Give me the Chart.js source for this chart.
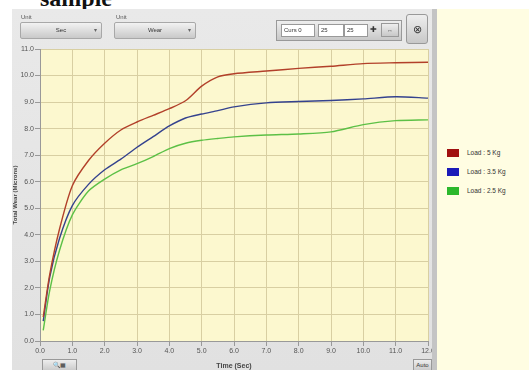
<!DOCTYPE html>
<html>
<head>
<meta charset="utf-8">
<script src="https://cdn.jsdelivr.net/npm/chart.js@4"></script>
<style>
  body { margin: 0; width: 529px; height: 370px; overflow: hidden; position: relative; background: #fff; font-family: "Liberation Sans", Arial, sans-serif; }
  #title { position: absolute; left: 40px; top: -15px; font: bold 24px "Liberation Serif", serif; color: #111; }
  #panel { position: absolute; left: 12px; top: 9px; width: 420px; height: 361px; background: linear-gradient(#e9e9e9, #e1e1e1); border-right: 5px solid #c4c4c4; }
  #side { position: absolute; left: 437px; top: 9px; width: 92px; height: 361px; background: #fffde2; }
  #chartBox { position: absolute; left: 0; top: 0; width: 420px; height: 361px; }
  .lbl { position: absolute; font-size: 6px; color: #555; }
  .drop { position: absolute; height: 15px; background: linear-gradient(#f2f2f2, #c9c9c9); border: 1px solid #a8a8a8; border-radius: 2px; font-size: 6px; color: #333; text-align: center; line-height: 15px; }
  .drop span.arr { position: absolute; right: 4px; top: 0; color: #666; }
  .field { position: absolute; top: 24px; height: 11px; background: #fff; border: 1px solid #999; font-size: 6px; line-height: 11px; color: #333; padding-left: 2px; }
  .btn { position: absolute; background: linear-gradient(#eee, #c8c8c8); border: 1px solid #999; font-size: 6px; color: #333; text-align: center; }
  #legend { position: absolute; left: 10px; top: 140px; }
  .item { position: relative; height: 19px; width: 80px; font-size: 6.5px; color: #333; white-space: nowrap; }
  .item i { position: absolute; left: 0; top: 0; width: 12px; height: 8px; }
  .item b { position: absolute; left: 20px; top: 0; font-weight: normal; line-height: 8px; }
</style>
</head>
<body>
<div id="title">sample</div>
<div id="panel">
  <div id="chartBox"><canvas id="myChart"></canvas></div>
</div>
<div id="side"><div id="legend"></div></div>

<div class="lbl" style="left:21px;top:14px;">Unit</div>
<div class="drop" style="left:20px;top:22px;width:80px;">Sec<span class="arr">&#9662;</span></div>
<div class="lbl" style="left:116px;top:14px;">Unit</div>
<div class="drop" style="left:114px;top:22px;width:80px;">Wear<span class="arr">&#9662;</span></div>

<div class="btn" style="left:276px;top:20px;width:124px;height:19px;"></div>
<div class="field" style="left:281px;width:30px;">Curs 0</div>
<div class="field" style="left:318px;width:22px;">25</div>
<div class="field" style="left:344px;width:20px;">25</div>
<div class="lbl" style="left:370px;top:25px;font-size:8px;color:#333;">&#10010;</div>
<div class="btn" style="left:381px;top:23px;width:16px;height:12px;line-height:12px;">&#8596;</div>
<div class="btn" style="left:406px;top:14px;width:20px;height:28px;line-height:28px;font-size:11px;border-radius:3px;">&#8855;</div>

<div class="btn" style="left:42px;top:359px;width:33px;height:11px;line-height:11px;">&#128269;&#9638;</div>
<div class="btn" style="left:413px;top:359px;width:17px;height:11px;line-height:11px;">Auto</div>

<script>
// data
const timeSec = [0.1, 0.3, 0.6, 1.0, 1.5, 2.0, 2.5, 3.0, 3.5, 4.0, 4.5, 5.0, 5.5, 6.0, 7.0, 8.0, 9.0, 10.0, 11.0, 12.0];
const wear5kg = [0.9, 2.5, 4.2, 5.85, 6.8, 7.45, 7.95, 8.25, 8.5, 8.75, 9.05, 9.6, 9.95, 10.07, 10.17, 10.27, 10.35, 10.45, 10.48, 10.5];
const wear35kg = [0.75, 2.4, 3.85, 5.1, 5.9, 6.45, 6.85, 7.3, 7.7, 8.1, 8.4, 8.55, 8.68, 8.82, 8.97, 9.02, 9.06, 9.12, 9.2, 9.15];
const wear25kg = [0.4, 1.9, 3.4, 4.75, 5.65, 6.1, 6.45, 6.68, 6.95, 7.25, 7.45, 7.56, 7.63, 7.69, 7.76, 7.8, 7.88, 8.15, 8.3, 8.33];
const seriesNames = ['Load : 5 Kg', 'Load : 3.5 Kg', 'Load : 2.5 Kg'];
const lineColors = ['#b2402a', '#34428e', '#5cc046'];
const keyColors = ['#a01010', '#1a1ab8', '#2cb82c'];

const toPoints = (vals) => vals.map((v, i) => ({ x: timeSec[i], y: v }));
const allWear = [wear5kg, wear35kg, wear25kg];

const data = {
    datasets: allWear.map((vals, i) => ({
        label: seriesNames[i],
        data: toPoints(vals),
        borderColor: lineColors[i],
        borderWidth: 1.4,
        pointRadius: 0,
        tension: 0.25
    }))
};

// yellow plot background
const plotBg = {
    id: 'plotBg',
    beforeDraw(chart) {
        const { ctx, chartArea: a } = chart;
        ctx.save();
        ctx.fillStyle = '#fcf8cf';
        ctx.fillRect(a.left, a.top, a.right - a.left, a.bottom - a.top);
        ctx.restore();
    }
};

const tickFont = { family: 'Liberation Sans', size: 7 };
const gridLook = { color: '#d8cfa2', tickLength: 5, tickColor: '#999' };

const config = {
    type: 'line',
    data,
    plugins: [plotBg],
    options: {
        responsive: false,
        animation: false,
        layout: { padding: { top: 40, right: 4, left: 0, bottom: 0 } },
        plugins: { legend: { display: false }, tooltip: { enabled: false } },
        scales: {
            x: {
                type: 'linear',
                min: 0, max: 12,
                ticks: { stepSize: 1, font: tickFont, color: '#555', padding: 1, maxRotation: 0,
                    callback: v => v.toFixed(1) },
                grid: gridLook,
                border: { color: '#999' },
                title: { display: true, text: 'Time (Sec)', font: { family: 'Liberation Sans', size: 7, weight: 'bold' }, color: '#444', padding: 0 },
                afterFit: s => { s.height = 29; s.paddingRight = 0; s.paddingLeft = 0; }
            },
            y: {
                min: 0, max: 11,
                ticks: { stepSize: 1, font: tickFont, color: '#555', padding: 1,
                    callback: v => v.toFixed(1) },
                grid: gridLook,
                border: { color: '#999' },
                title: { display: true, text: 'Total Wear (Microns)', font: { family: 'Liberation Sans', size: 6, weight: 'bold' }, color: '#444', padding: 0 },
                afterFit: s => { s.width = 28; s.paddingTop = 0; s.paddingBottom = 0; }
            }
        }
    }
};

const canvas = document.getElementById('myChart');
canvas.width = 420;
canvas.height = 361;
const myChart = new Chart(canvas, config);

// legend beside the panel
const legend = document.getElementById('legend');
seriesNames.forEach((name, i) => {
    const row = document.createElement('div');
    row.className = 'item';
    row.innerHTML = '<i style="background:' + keyColors[i] + '"></i><b>' + name + '</b>';
    legend.appendChild(row);
});
</script>
</body>
</html>
